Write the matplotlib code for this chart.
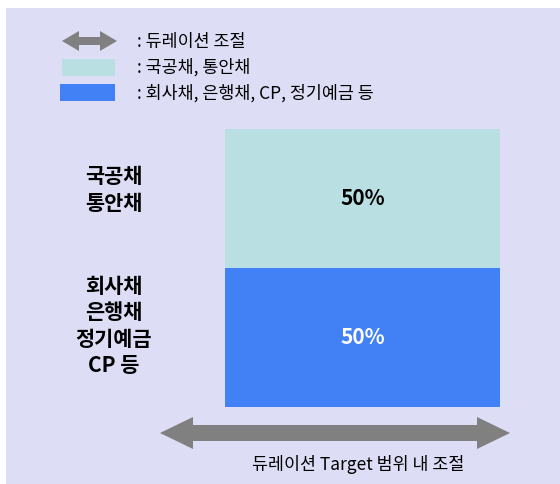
import matplotlib.pyplot as plt
from matplotlib.patches import Polygon, Rectangle

plt.rcParams['font.family'] = ['Noto Sans CJK KR', 'DejaVu Sans']

# data
segments = ['회사채\n은행채\n정기예금\nCP 등', '국공채\n통안채']
shares = [50, 50]
seg_colors = ['#4181F5', '#B9DFE3']
pct_colors = ['white', 'black']
legend_labels = [': 듀레이션 조절', ': 국공채, 통안채', ': 회사채, 은행채, CP, 정기예금 등']
bottom_label = '듀레이션 Target 범위 내 조절'

BG = '#DDDEF5'
GREY = '#808080'
label_y = [326, 190]  # pixel centres of the side labels


def double_arrow(x0, x1, y, shaft, head_w, head_len):
    h = shaft / 2
    w = head_w / 2
    pts = [(x0, y), (x0 + head_len, y - w), (x0 + head_len, y - h),
           (x1 - head_len, y - h), (x1 - head_len, y - w), (x1, y),
           (x1 - head_len, y + w), (x1 - head_len, y + h),
           (x0 + head_len, y + h), (x0 + head_len, y + w)]
    return Polygon(pts, closed=True, facecolor=GREY, edgecolor='none')


fig = plt.figure(figsize=(5.6, 4.84), dpi=100)
bg = fig.add_axes([0, 0, 1, 1])
bg.set_xlim(0, 560)
bg.set_ylim(484, 0)
bg.axis('off')
bg.add_patch(Rectangle((6, 8), 560, 480, facecolor=BG, edgecolor='none'))

# legend
bg.add_patch(double_arrow(62, 117, 41, 8, 20, 17))
bg.add_patch(Rectangle((62, 59), 53, 17, facecolor=seg_colors[1], edgecolor='none'))
bg.add_patch(Rectangle((60, 84), 55, 17, facecolor=seg_colors[0], edgecolor='none'))
for i, lab in enumerate(legend_labels):
    bg.text(137, 42 + i * 25.5, lab, fontsize=12.5, va='center', ha='left')

# bottom arrow and text
bg.add_patch(double_arrow(160, 510, 433, 16, 32, 33))
bg.text(358, 464, bottom_label, fontsize=12.5, va='center', ha='center')

# side labels
for lab, y in zip(segments, label_y):
    bg.text(114, y, lab, ha='center', va='center', fontsize=15,
            fontweight='bold', linespacing=1.3)

# stacked bar
ax = fig.add_axes([225 / 560, 77 / 484, 275 / 560, 278 / 484])
ax.set_xlim(-0.5, 0.5)
ax.set_ylim(0, sum(shares))
ax.axis('off')
bottom = 0
for v, c, tc in zip(shares, seg_colors, pct_colors):
    ax.bar(0, v, width=1, bottom=bottom, color=c, edgecolor='none')
    ax.text(0, bottom + v / 2, f'{v}%', ha='center', va='center',
            fontsize=15, fontweight='bold', color=tc)
    bottom += v

fig.savefig('out.png', dpi=100, facecolor='white')
